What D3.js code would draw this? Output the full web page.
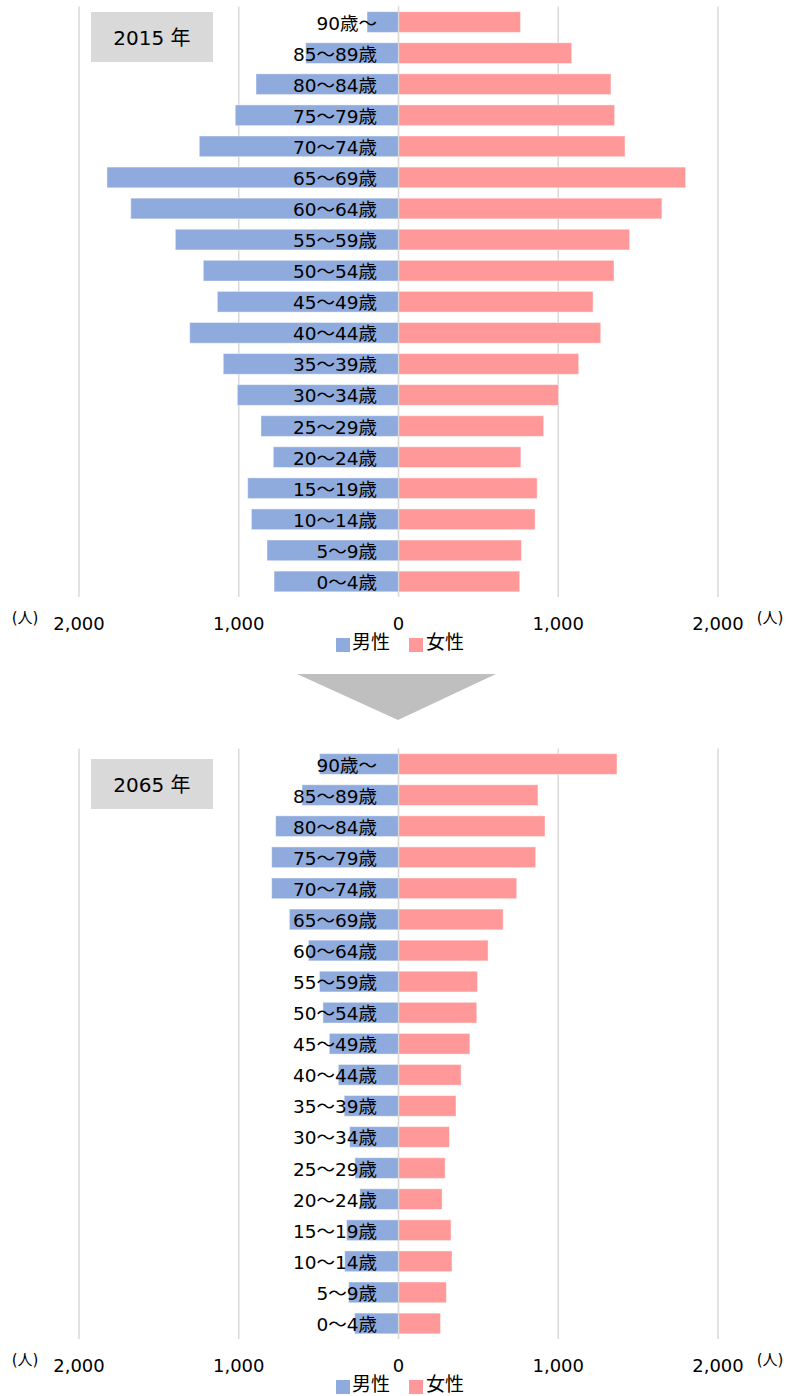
<!DOCTYPE html>
<html>
<head>
<meta charset="utf-8">
<script src="https://cdn.jsdelivr.net/npm/d3@7"></script>
<style>
  html, body { margin: 0; padding: 0; background: #fff; }
  svg { display: block; font-family: "DejaVu Sans", "Noto Sans CJK JP", sans-serif; }
</style>
</head>
<body>
<svg id="chart" width="790" height="1396"></svg>
<script>
// Age groups, youngest first
const ages = ["0～4歳","5～9歳","10～14歳","15～19歳","20～24歳","25～29歳","30～34歳",
  "35～39歳","40～44歳","45～49歳","50～54歳","55～59歳","60～64歳","65～69歳",
  "70～74歳","75～79歳","80～84歳","85～89歳","90歳～"];

// Population (persons) by age group
const male2015   = [779, 823, 921, 944, 784, 861, 1009, 1097, 1307, 1134, 1222, 1397, 1676, 1825, 1247, 1022, 892, 581, 197];
const female2015 = [759, 770, 855, 868, 766, 909, 1002, 1128, 1266, 1218, 1349, 1447, 1649, 1797, 1418, 1353, 1330, 1084, 764];
const male2065   = [275, 312, 337, 325, 242, 273, 306, 340, 377, 433, 473, 495, 564, 683, 794, 794, 769, 604, 494];
const female2065 = [263, 300, 335, 329, 273, 292, 319, 360, 392, 447, 490, 495, 561, 655, 740, 859, 917, 873, 1368];

const tickValues = [-2000, -1000, 0, 1000, 2000];
const seriesNames = ["男性", "女性"];
const colors = { male: "#8faadc", female: "#ff9999" };

const svg = d3.select("#chart");
const fmt = d3.format(",");

const x = d3.scaleLinear().domain([-2000, 2000]).range([79, 718]);

function drawPyramid(top, yearLabel, boxTop, male, female) {
  const g = svg.append("g");
  const plotH = 590.5;
  const y = d3.scaleBand()
    .domain(ages.slice().reverse())
    .range([top, top + plotH])
    .paddingInner(0.333)
    .paddingOuter(0.1665);

  // vertical gridlines
  g.selectAll("line.grid").data(tickValues).join("line")
    .attr("class", "grid")
    .attr("x1", d => x(d)).attr("x2", d => x(d))
    .attr("y1", top).attr("y2", top + plotH)
    .attr("stroke", "#d9d9d9").attr("stroke-width", 1.5);

  // male bars (left)
  g.selectAll("rect.m").data(ages.map((a, i) => ({ a, v: male[i] }))).join("rect")
    .attr("class", "m")
    .attr("x", d => x(-d.v)).attr("width", d => x(0) - x(-d.v))
    .attr("y", d => y(d.a)).attr("height", y.bandwidth())
    .attr("fill", colors.male)
    .attr("stroke", "rgba(255,255,255,0.45)").attr("stroke-width", 1);

  // female bars (right)
  g.selectAll("rect.f").data(ages.map((a, i) => ({ a, v: female[i] }))).join("rect")
    .attr("class", "f")
    .attr("x", x(0)).attr("width", d => x(d.v) - x(0))
    .attr("y", d => y(d.a)).attr("height", y.bandwidth())
    .attr("fill", colors.female)
    .attr("stroke", "rgba(255,255,255,0.45)").attr("stroke-width", 1);

  // centre axis line
  g.append("line")
    .attr("x1", x(0)).attr("x2", x(0))
    .attr("y1", top).attr("y2", top + plotH)
    .attr("stroke", "#d9d9d9").attr("stroke-width", 1.2);

  // age labels over the bars
  g.selectAll("text.age").data(ages).join("text")
    .attr("class", "age")
    .attr("x", 377)
    .attr("y", d => y(d) + y.bandwidth() / 2 + 1)
    .attr("text-anchor", "end")
    .attr("dominant-baseline", "central")
    .attr("font-size", 18.5)
    .attr("fill", "#000")
    .text(d => d);

  // x axis tick labels
  const axisY = top + plotH + 26;
  g.selectAll("text.tick").data(tickValues).join("text")
    .attr("class", "tick")
    .attr("x", d => x(d))
    .attr("y", axisY)
    .attr("text-anchor", "middle")
    .attr("dominant-baseline", "central")
    .attr("font-size", 18)
    .attr("fill", "#000")
    .text(d => fmt(Math.abs(d)));

  // unit labels
  [25, 770].forEach(ux => {
    g.append("text")
      .attr("x", ux).attr("y", axisY - 5)
      .attr("text-anchor", "middle")
      .attr("dominant-baseline", "central")
      .attr("font-size", 15)
      .attr("fill", "#000")
      .text("(人)");
  });

  // legend
  const legY = axisY + 22;
  const legend = [
    { name: seriesNames[0], color: colors.male, sx: 336, tx: 352 },
    { name: seriesNames[1], color: colors.female, sx: 409, tx: 426 }
  ];
  legend.forEach(l => {
    g.append("rect")
      .attr("x", l.sx).attr("y", legY - 7)
      .attr("width", 14).attr("height", 14)
      .attr("fill", l.color);
    g.append("text")
      .attr("x", l.tx).attr("y", legY - 3)
      .attr("dominant-baseline", "central")
      .attr("font-size", 19)
      .attr("fill", "#000")
      .text(l.name);
  });

  // year box
  g.append("rect")
    .attr("x", 91).attr("y", boxTop)
    .attr("width", 122).attr("height", 50)
    .attr("fill", "#d9d9d9");
  g.append("text")
    .attr("x", 152).attr("y", boxTop + 26)
    .attr("text-anchor", "middle")
    .attr("dominant-baseline", "central")
    .attr("font-size", 20)
    .attr("fill", "#000")
    .text(yearLabel);
}

drawPyramid(6.5, "2015 年", 12, male2015, female2015);

// arrow between the two pyramids
svg.append("path")
  .attr("d", d3.line()([[297, 674], [496, 674], [398, 720]]) + "Z")
  .attr("fill", "#bfbfbf");

drawPyramid(748.5, "2065 年", 759, male2065, female2065);
</script>
</body>
</html>
